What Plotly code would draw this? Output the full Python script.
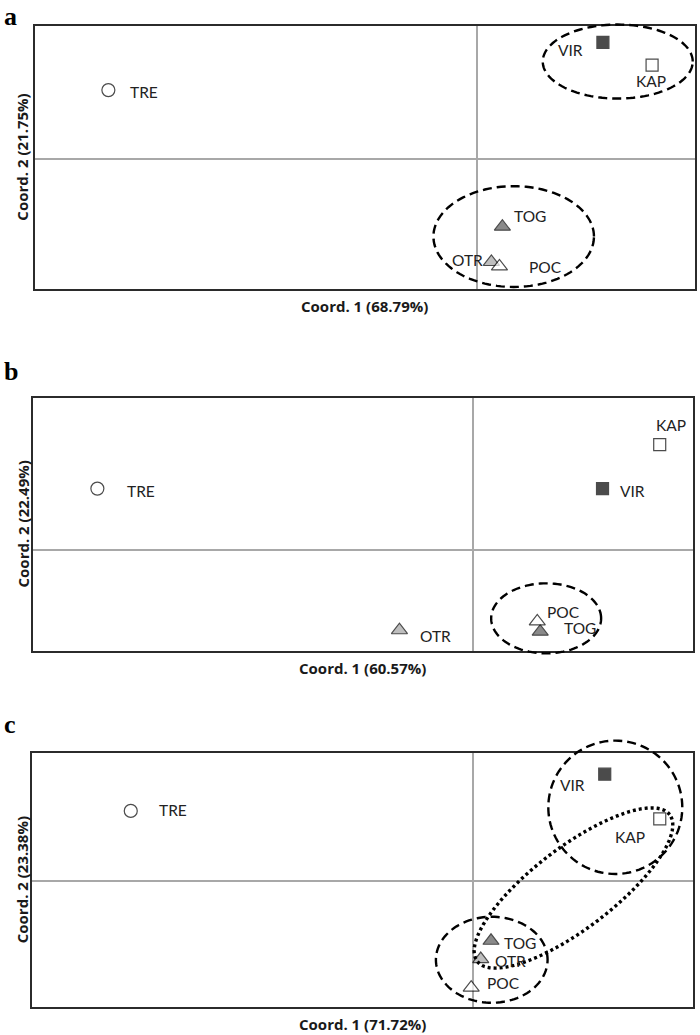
import numpy as np
import plotly.graph_objects as go

W, H = 700, 1035

# ---------------- data ----------------
sites = ["TRE", "VIR", "KAP", "TOG", "OTR", "POC"]

# panel a
a_x = [-0.502, 0.172, 0.239, 0.035, 0.020, 0.031]
a_y = [0.094, 0.159, 0.128, -0.092, -0.140, -0.146]
a_xtitle = "Coord. 1 (68.79%)"
a_ytitle = "Coord. 2 (21.75%)"

# panel b
b_x = [-0.513, 0.176, 0.254, 0.091, -0.101, 0.087]
b_y = [0.083, 0.083, 0.143, -0.112, -0.110, -0.098]
b_xtitle = "Coord. 1 (60.57%)"
b_ytitle = "Coord. 2 (22.49%)"

# panel c
c_x = [-0.466, 0.180, 0.255, 0.025, 0.011, -0.002]
c_y = [0.096, 0.146, 0.085, -0.081, -0.106, -0.145]
c_xtitle = "Coord. 1 (71.72%)"
c_ytitle = "Coord. 2 (23.38%)"

panel_letters = ["a", "b", "c"]

# ---------------- styles ----------------
sym = {"TRE": "circle", "VIR": "square", "KAP": "square",
       "TOG": "triangle-up", "OTR": "triangle-up", "POC": "triangle-up"}
fill = {"TRE": "white", "VIR": "black", "KAP": "white",
        "TOG": "#595959", "OTR": "#a3a3a3", "POC": "white"}
msize = {"TRE": 13, "VIR": 12, "KAP": 12, "TOG": 14, "OTR": 14, "POC": 14}

# label offsets in px (dx right, dy down), order follows `sites`
a_off = [(36, 2), (-32, 8), (-1, 16), (28, -11), (-24, -2), (46, 1)]
b_off = [(44, 2), (30, 2), (11, -20), (40, -4), (36, 6), (26, -9)]
c_off = [(42, -1), (-32, 11), (-30, 18), (29, 2), (30, 2), (32, -5)]

# grouping ellipses (cx, cy, rx, ry, angle_deg, dash) in data units
a_ell = [(0.1922, 0.1329, 0.1022, 0.0504, 0, "dash"),
         (0.0504, -0.1054, 0.1094, 0.0686, 0, "dash")]
b_ell = [(0.0991, -0.0938, 0.0750, 0.0477, 0, "dash")]
c_ell = [(0.1944, 0.1009, 0.0913, 0.0909, 0, "dash"),
         (0.0260, -0.1069, 0.0761, 0.0586, 0, "dash"),
         (0.1374, -0.0091, 0.1649, 0.0553, 37.3, "dot")]

# panel geometry (pixel boxes) and axis ranges
boxes = [(34.7, 695.0, 26.0, 289.3), (32.5, 692.7, 398.3, 650.7), (32.3, 692.7, 753.3, 1007.3)]
xranges = [(-0.6024, 0.2975), (-0.6015, 0.2990), (-0.6002, 0.2999)]
yranges = [(-0.1772, 0.1813), (-0.1379, 0.2061), (-0.1717, 0.1745)]
letter_y = [None, 371, 724]   # vertical centre of panel letters (px); None -> top-anchored

panels = [
    (a_x, a_y, a_xtitle, a_ytitle, a_off, a_ell),
    (b_x, b_y, b_xtitle, b_ytitle, b_off, b_ell),
    (c_x, c_y, c_xtitle, c_ytitle, c_off, c_ell),
]

label_font = dict(family="Lato, Carlito, sans-serif", size=15.5, color="#222222")
title_font = dict(family="Open Sans, sans-serif", size=15, color="#1a1a1a")
letter_font = dict(family="Liberation Serif, DejaVu Serif, serif", size=26, color="black")

fig = go.Figure()
shapes = []
annotations = []

for i, (xs, ys, xt, yt, offs, ells) in enumerate(panels):
    n = "" if i == 0 else str(i + 1)
    l, r, t, b = boxes[i]
    domx = [l / W, r / W]
    domy = [1 - b / H, 1 - t / H]
    xr, yr = xranges[i], yranges[i]

    fig.add_trace(go.Scatter(
        x=xs, y=ys, mode="markers", xaxis="x" + n, yaxis="y" + n,
        marker=dict(symbol=[sym[s] for s in sites],
                    color=[fill[s] for s in sites],
                    size=[msize[s] for s in sites],
                    line=dict(color="black", width=1.2)),
        hoverinfo="skip", showlegend=False, cliponaxis=False))

    ax_common = dict(showgrid=False, showticklabels=False, ticks="",
                     zeroline=True, zerolinecolor="#a8a8a8", zerolinewidth=1.6,
                     showline=True, mirror=True, linecolor="#2b2b2b", linewidth=1.5,
                     fixedrange=True)
    fig.update_layout(**{
        "xaxis" + n: dict(domain=domx, range=list(xr), anchor="y" + n, **ax_common),
        "yaxis" + n: dict(domain=domy, range=list(yr), anchor="x" + n, **ax_common),
    })

    # point labels
    for s, x, y, (dx, dy) in zip(sites, xs, ys, offs):
        annotations.append(dict(x=x, y=y, xref="x" + n, yref="y" + n, text=s,
                                showarrow=False, xshift=dx, yshift=-dy,
                                xanchor="center", yanchor="middle", font=label_font))

    # axis titles
    annotations.append(dict(x=(domx[0] + domx[1]) / 2, y=1 - (b + 17) / H,
                            xref="paper", yref="paper", text="<b>%s</b>" % xt,
                            showarrow=False, xanchor="center", yanchor="middle",
                            font=title_font))
    annotations.append(dict(x=22 / W, y=(domy[0] + domy[1]) / 2,
                            xref="paper", yref="paper", text="<b>%s</b>" % yt,
                            showarrow=False, xanchor="center", yanchor="middle",
                            textangle=-90, font=title_font))
    # panel letter
    if letter_y[i] is None:
        annotations.append(dict(x=2 / W, y=1, xref="paper", yref="paper",
                                text="<b>%s</b>" % panel_letters[i], showarrow=False,
                                xanchor="left", yanchor="top", font=letter_font))
    else:
        annotations.append(dict(x=2 / W, y=1 - letter_y[i] / H, xref="paper", yref="paper",
                                text="<b>%s</b>" % panel_letters[i], showarrow=False,
                                xanchor="left", yanchor="middle", font=letter_font))

    # ellipses (paper coordinates so they are not clipped at the frame)
    def to_paper(x, y):
        px = domx[0] + (x - xr[0]) / (xr[1] - xr[0]) * (domx[1] - domx[0])
        py = domy[0] + (y - yr[0]) / (yr[1] - yr[0]) * (domy[1] - domy[0])
        return px, py

    for (cx, cy, rx, ry, ang, dash) in ells:
        th = np.linspace(0, 2 * np.pi, 121)
        a = np.deg2rad(ang)
        ex = cx + rx * np.cos(th) * np.cos(a) - ry * np.sin(th) * np.sin(a)
        ey = cy + rx * np.cos(th) * np.sin(a) + ry * np.sin(th) * np.cos(a)
        pts = [to_paper(x, y) for x, y in zip(ex, ey)]
        path = "M" + " L".join("%.5f,%.5f" % p for p in pts) + " Z"
        if dash == "dash":
            line = dict(color="black", width=2.4, dash="9px,5px")
        else:
            line = dict(color="black", width=3.4, dash="3px,3px")
        shapes.append(dict(type="path", path=path, xref="paper", yref="paper",
                           line=line, layer="above"))

fig.update_layout(width=W, height=H, autosize=False,
                  margin=dict(l=0, r=0, t=0, b=0),
                  paper_bgcolor="white", plot_bgcolor="white",
                  shapes=shapes, annotations=annotations, showlegend=False)

fig.write_html("out.html", config={"displayModeBar": False},
               post_script="document.body.style.margin='0';document.body.style.overflow='hidden';")
